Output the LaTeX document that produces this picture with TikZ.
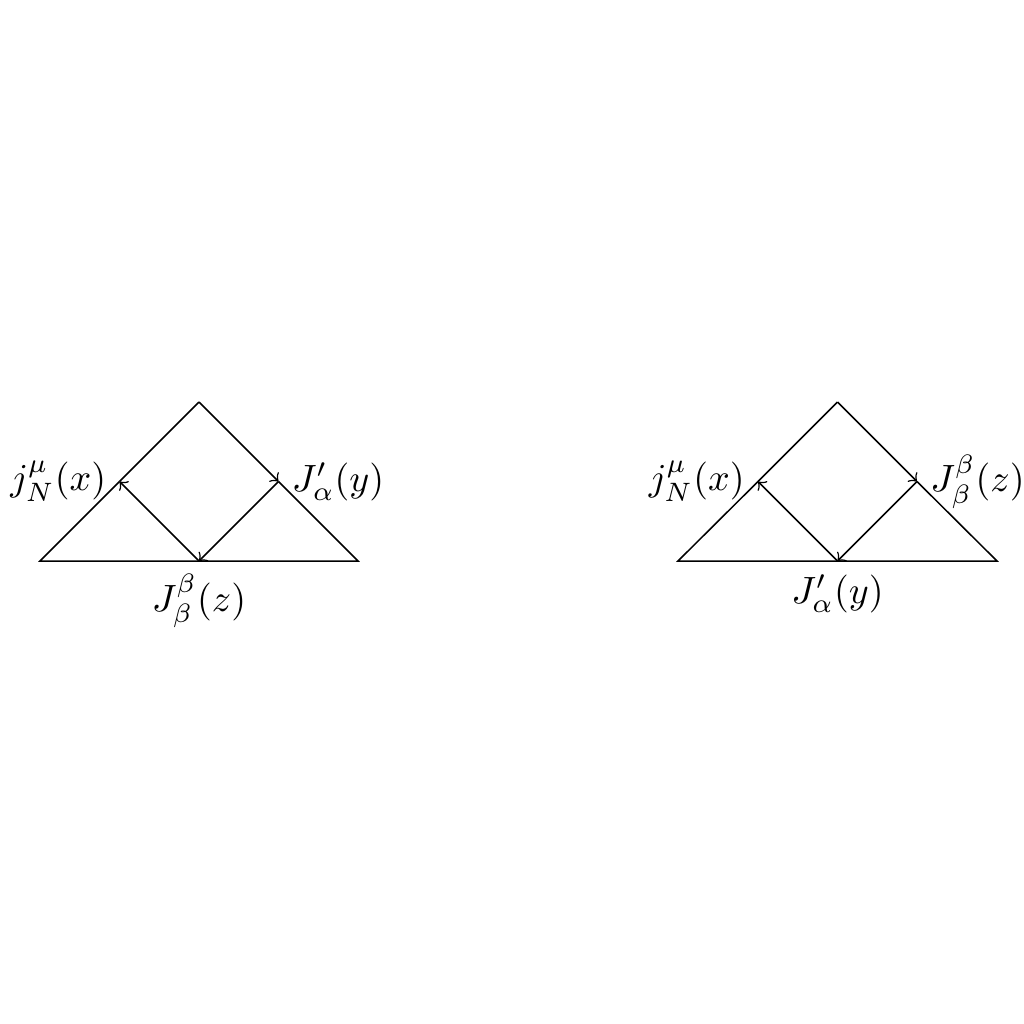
\documentclass[tikz,border=0pt]{standalone}
\begin{document}
\begin{tikzpicture}[x=0.263pt,y=-0.263pt,
  edge/.style={line width=0.4pt},
  flow/.style={line width=0.4pt,->},
  lab/.style={inner sep=3.33pt}]
\useasboundingbox (0,0) rectangle (1024,1024);
% left diagram
\coordinate (aA) at (199,402);
\coordinate (aL) at (40,561);
\coordinate (aR) at (358,561);
\coordinate (aB) at (199,561);
\coordinate (aP) at (278.5,481.5);
\coordinate (aQ) at (119.5,481.5);
\draw[edge] (aQ) -- (aA);
\draw[edge] (aQ) -- (aL) -- (aB) -- (aR) -- (aP);
\draw[flow] (aA) -- (aP);
\draw[flow] (aP) -- (aB);
\draw[flow] (aB) -- (aQ);
\node[lab,anchor=east] (al) at (aQ) {$j^{\mu}_{N}(x)$};
\node[lab,anchor=west] (ar) at (aP) {$J'_{\alpha}(y)$};
\node[lab,anchor=north] (ab) at (aB) {$J^{\beta}_{\beta}(z)$};
% right diagram
\coordinate (bA) at (837.5,402);
\coordinate (bL) at (678,561);
\coordinate (bR) at (997,561);
\coordinate (bB) at (837.5,561);
\coordinate (bP) at (917,481.5);
\coordinate (bQ) at (758,481.5);
\draw[edge] (bQ) -- (bA);
\draw[edge] (bQ) -- (bL) -- (bB) -- (bR) -- (bP);
\draw[flow] (bA) -- (bP);
\draw[flow] (bP) -- (bB);
\draw[flow] (bB) -- (bQ);
\node[lab,anchor=east] (bl) at (bQ) {$j^{\mu}_{N}(x)$};
\node[lab,anchor=west] (br) at (bP) {$J^{\beta}_{\beta}(z)$};
\node[lab,anchor=north] (bb) at (bB) {$J'_{\alpha}(y)$};
\end{tikzpicture}
\end{document}
